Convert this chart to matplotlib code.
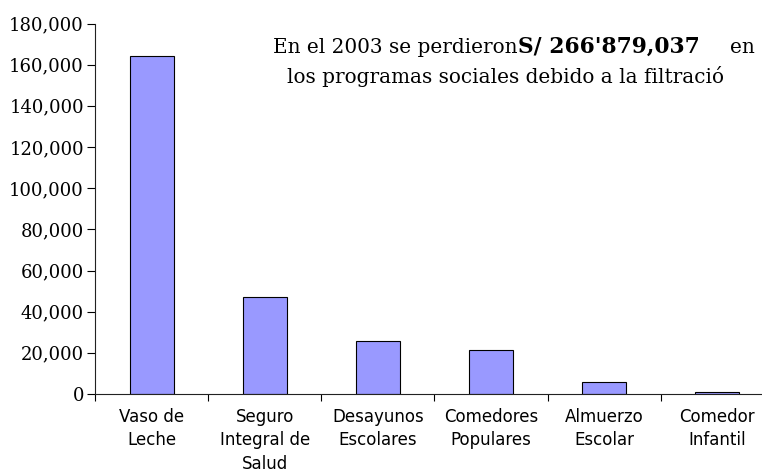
import matplotlib.pyplot as plt
import matplotlib.ticker as mticker
import numpy as np

# Perdidas por filtracion por programa social (miles de soles, 2003)
programas = ['Vaso de\nLeche', 'Seguro\nIntegral de\nSalud', 'Desayunos\nEscolares',
             'Comedores\nPopulares', 'Almuerzo\nEscolar', 'Comedor\nInfantil']
perdidas = [164000, 47000, 25600, 21200, 6000, 900]
y_ticks = [0, 20000, 40000, 60000, 80000, 100000, 120000, 140000, 160000, 180000]

fig = plt.figure(figsize=(7.62, 4.74), dpi=100)
# the axes run past the right edge of the figure, as in the original
ax = fig.add_axes([95 / 762, 1 - 394 / 474, 679 / 762, 370.5 / 474])

x = np.arange(len(programas))
ax.bar(x, perdidas, width=0.39, color='#9999FF', edgecolor='black', linewidth=0.8)

ax.set_xlim(-0.5, len(programas) - 0.5)
ax.set_ylim(0, 180000)

# y axis
ax.set_yticks(y_ticks)
ax.yaxis.set_major_formatter(mticker.FuncFormatter(lambda v, p: f'{int(v):,}'))
ax.tick_params(axis='y', direction='out', length=6, width=0.8, pad=2)
for lab in ax.get_yticklabels():
    lab.set_fontfamily('DejaVu Serif')
    lab.set_fontsize(13)

# x axis: labels at the centres, tick marks at the boundaries
ax.set_xticks(x)
ax.set_xticklabels(programas, fontsize=12, family='DejaVu Sans', linespacing=1.38)
ax.set_xticks(np.arange(len(programas) + 1) - 0.5, minor=True)
ax.tick_params(axis='x', which='major', length=0, pad=10)
ax.tick_params(axis='x', which='minor', direction='out', length=5, width=0.8)

for s in ['top', 'right']:
    ax.spines[s].set_visible(False)
for s in ['left', 'bottom']:
    ax.spines[s].set_linewidth(0.8)
    ax.spines[s].set_color('#222222')

# annotation text
fig.canvas.draw()
t1 = fig.text(273 / 762, 1 - 52.7 / 474, 'En el 2003 se perdieron', family='DejaVu Serif',
              fontsize=14.4, va='baseline', ha='left')
fig.canvas.draw()
bb = t1.get_window_extent()
fig.text(bb.x1 / 762, 1 - 52.7 / 474, "S/ 266'879,037", family='DejaVu Serif',
         fontsize=15.7, fontweight='bold', va='baseline', ha='left')
fig.text(730 / 762, 1 - 52.7 / 474, 'en', family='DejaVu Serif',
         fontsize=14.4, va='baseline', ha='left')
fig.text(287 / 762, 1 - 83 / 474, 'los programas sociales debido a la filtració',
         family='DejaVu Serif', fontsize=14.4, va='baseline', ha='left')

fig.savefig('out.png', dpi=100)
